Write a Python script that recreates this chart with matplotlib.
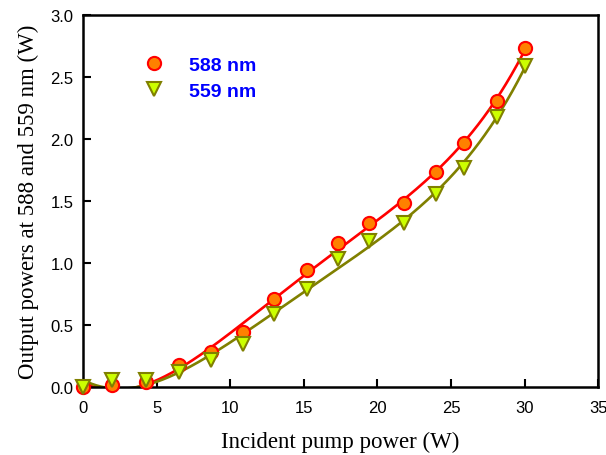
import numpy as np
import matplotlib
matplotlib.use("Agg")
import matplotlib.pyplot as plt
from matplotlib.lines import Line2D

pump = [0, 2.0, 4.3, 6.5, 8.7, 10.9, 13.0, 15.2, 17.3, 19.4, 21.8, 24.0, 25.9, 28.1, 30.0]
p588 = [0.0, 0.02, 0.04, 0.18, 0.28, 0.44, 0.71, 0.94, 1.16, 1.32, 1.48, 1.73, 1.97, 2.31, 2.73]
p559 = [0.0, 0.06, 0.06, 0.12, 0.22, 0.35, 0.59, 0.79, 1.03, 1.18, 1.32, 1.56, 1.77, 2.18, 2.59]
xticks = [0, 5, 10, 15, 20, 25, 30, 35]
yticks = [0.0, 0.5, 1.0, 1.5, 2.0, 2.5, 3.0]

fig = plt.figure(figsize=(6.06, 4.56), dpi=100)
ax = fig.add_axes([0.137, 0.149, 0.850, 0.816])

xf = np.linspace(0, 30, 400)
c588 = np.polyfit(pump, p588, 4)
c559 = np.polyfit(pump, p559, 4)
ax.plot(xf, np.polyval(c588, xf), color='#FF0000', lw=1.9, zorder=2)
ax.plot(xf, np.polyval(c559, xf), color='#808000', lw=1.9, zorder=2)

ax.plot(pump, p588, linestyle='none', marker='o', ms=9.5, mfc='#FF8000', mec='#FF0000', mew=1.5, zorder=3, clip_on=False)
ax.plot(pump, p559, linestyle='none', marker='v', ms=9.5, mfc='#CCFF00', mec='#808000', mew=1.5, zorder=4, clip_on=False)

ax.set_xlim(0, 35)
ax.set_ylim(0, 3.0)
ax.set_xticks(xticks)
ax.set_yticks(yticks)
ax.set_xticklabels([str(t) for t in xticks])
ax.set_yticklabels([f"{t:.1f}" for t in yticks])
ax.tick_params(direction='in', length=6, width=1.5, top=False, right=False, labelsize=12)
ax.tick_params(axis='x', pad=9)
ax.tick_params(axis='y', pad=7)
for lab in ax.get_xticklabels() + ax.get_yticklabels():
    lab.set_fontfamily('Liberation Sans')
for s in ax.spines.values():
    s.set_linewidth(1.8)

ax.set_xlabel('Incident pump power (W)', fontfamily='Liberation Serif', fontsize=16.5, labelpad=12)
ax.set_ylabel('Output powers at 588 and 559 nm (W)', fontfamily='Liberation Serif', fontsize=16.5, labelpad=8)

h1 = Line2D([], [], linestyle='none', marker='o', ms=9.5, mfc='#FF8000', mec='#FF0000', mew=1.5)
h2 = Line2D([], [], linestyle='none', marker='v', ms=9.5, mfc='#CCFF00', mec='#808000', mew=1.5)
leg = ax.legend([h1, h2], ['588 nm', '559 nm'], loc='upper left', bbox_to_anchor=(0.085, 0.935),
                frameon=False, handlelength=1.0, handletextpad=1.3, labelspacing=0.4,
                prop={'family': 'Liberation Sans', 'weight': 'bold', 'size': 14})
for t in leg.get_texts():
    t.set_color('#0000FF')

fig.savefig('out.png', dpi=100)
